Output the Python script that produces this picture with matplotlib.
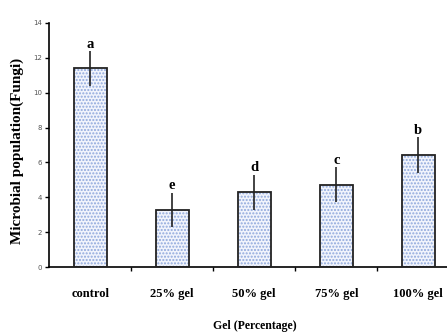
import numpy as np
import matplotlib.pyplot as plt
from matplotlib.ticker import FixedLocator

# Data
categories = ['control', '25% gel', '50% gel', '75% gel', '100% gel']
means = [11.4, 3.27, 4.28, 4.72, 6.43]
errors = [1.0, 1.0, 1.02, 1.0, 1.02]
letters = ['a', 'e', 'd', 'c', 'b']

fig = plt.figure(figsize=(4.47, 3.33), dpi=100)
ax = fig.add_axes([0.11, 0.198, 0.89, 0.733])

x = np.arange(len(categories))

# Dotted fill first, then the black outline on top
ax.bar(x, means, width=0.4, color='#f1f4fc', hatch='.....',
       edgecolor='#8fa8dc', linewidth=0, zorder=2)
ax.bar(x, means, width=0.4, fill=False, edgecolor='#222222',
       linewidth=1.3, zorder=3)
ax.errorbar(x, means, yerr=errors, fmt='none', ecolor='#222222',
            elinewidth=1.2, capsize=0, zorder=4)

# Significance letters above the error bars
for xi, m, e, lab in zip(x, means, errors, letters):
    ax.text(xi, m + e + 0.02, lab, ha='center', va='bottom',
            fontsize=10.5, fontweight='bold', family='Liberation Serif')

ax.set_xlim(-0.5, 4.35)
ax.set_ylim(0, 14)
ax.set_yticks(np.arange(0, 15, 2))
ax.tick_params(axis='y', direction='out', length=3, width=1, labelsize=5,
               labelcolor='#555555', pad=2)

ax.set_xticks(x)
ax.set_xticklabels(categories, fontsize=9, fontweight='bold',
                   family='Liberation Serif')
ax.tick_params(axis='x', which='major', length=0, pad=15)
ax.xaxis.set_minor_locator(FixedLocator([0.5, 1.5, 2.5, 3.5]))
ax.tick_params(axis='x', which='minor', direction='out', length=3, width=1)

ax.spines['top'].set_visible(False)
ax.spines['right'].set_visible(False)
ax.spines['left'].set_linewidth(1.2)
ax.spines['bottom'].set_linewidth(1.2)

ax.set_xlabel('Gel (Percentage)', fontsize=8.5, fontweight='bold',
              family='Liberation Serif')
ax.xaxis.set_label_coords(0.517, -0.217)
ax.set_ylabel('Microbial population(Fungi)', fontsize=11, fontweight='bold',
              family='Liberation Serif')
ax.yaxis.set_label_coords(-0.063, 0.477)

fig.savefig('out.png', dpi=100)
